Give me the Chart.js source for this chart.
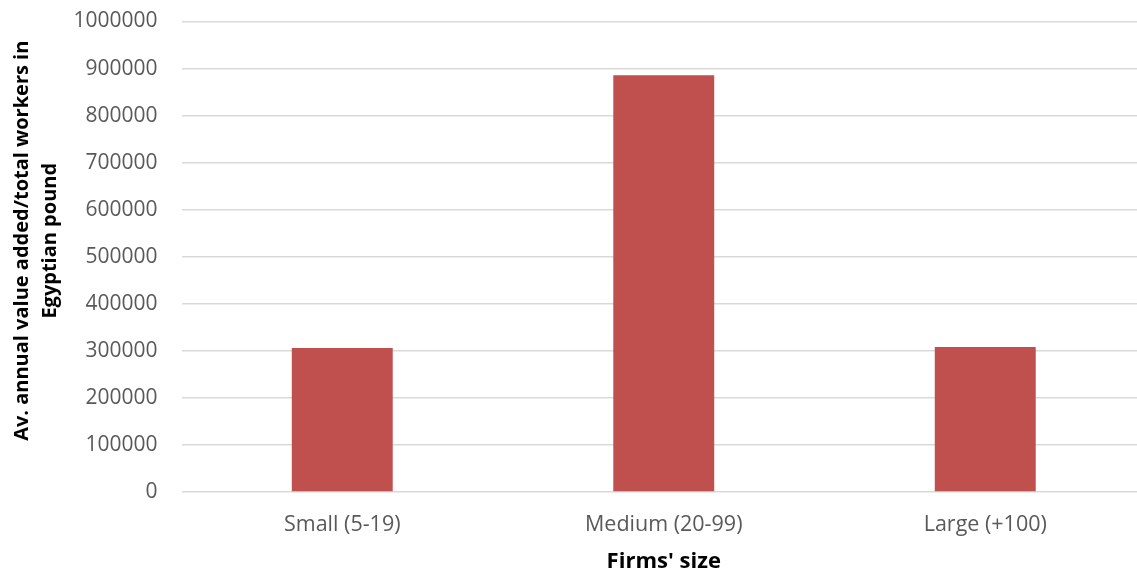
<!DOCTYPE html>
<html>
<head>
<meta charset="utf-8">
<script src="https://cdn.jsdelivr.net/npm/chart.js@4/dist/chart.umd.min.js"></script>
<style>
  html, body { margin: 0; padding: 0; background: #fff; overflow: hidden; }
  #wrap { width: 1146px; height: 576px; position: relative; }
</style>
</head>
<body>
<div id="wrap"><canvas id="myChart"></canvas></div>
<script>
// firm size categories and average value added per worker (EGP)
const categories = ['Small (5-19)', 'Medium (20-99)', 'Large (+100)'];
const values = [306000, 886000, 308000];
const yTitle = ['Av. annual value added/total workers in', 'Egyptian pound'];
const xTitle = "Firms' size";

const FONT = "'Open Sans', 'Liberation Sans', sans-serif";

// rotated two-line title on the left
const yTitlePlugin = {
    id: 'yTitle',
    afterDraw(chart) {
        const ctx = chart.ctx;
        const area = chart.chartArea;
        ctx.save();
        ctx.font = 'bold 20px ' + FONT;
        ctx.fillStyle = '#000';
        ctx.textAlign = 'center';
        ctx.textBaseline = 'middle';
        ctx.translate(22, area.top + (area.bottom - area.top) * 0.466);
        ctx.rotate(-Math.PI / 2);
        yTitle.forEach((line, i) => ctx.fillText(line, 0, i * 28));
        ctx.restore();
    }
};

const ctx = document.getElementById('myChart').getContext('2d');
const myChart = new Chart(ctx, {
    type: 'bar',
    data: {
        labels: categories,
        datasets: [{
            data: values,
            backgroundColor: '#C0504D',
            borderWidth: 0,
            barPercentage: 1,
            categoryPercentage: 0.314
        }]
    },
    options: {
        responsive: true,
        maintainAspectRatio: false,
        animation: false,
        layout: { padding: { top: 21.5, right: 0, bottom: 0, left: 0 } },
        plugins: {
            legend: { display: false },
            tooltip: { enabled: false }
        },
        scales: {
            x: {
                grid: { display: false },
                border: { display: false },
                ticks: {
                    color: '#595959',
                    font: { family: FONT, size: 21.5 },
                    padding: 12
                },
                title: {
                    display: true,
                    text: xTitle,
                    color: '#000',
                    font: { family: FONT, size: 22, weight: 'bold' },
                    padding: { top: 0, bottom: 1 }
                },
                afterFit(scale) { scale.height = 84; }
            },
            y: {
                min: 0,
                max: 1000000,
                border: { display: false },
                grid: { color: '#D9D9D9', lineWidth: 1.5, drawTicks: false },
                ticks: {
                    stepSize: 100000,
                    color: '#595959',
                    font: { family: FONT, size: 21 },
                    padding: 24,
                    callback: v => String(v)
                },
                afterFit(scale) {
                    scale.width = 181.5;
                    // keep the tick padding from pushing the plot top down
                    scale.paddingTop = 0;
                    scale.paddingBottom = 0;
                }
            }
        }
    },
    plugins: [yTitlePlugin]
});
</script>
</body>
</html>
